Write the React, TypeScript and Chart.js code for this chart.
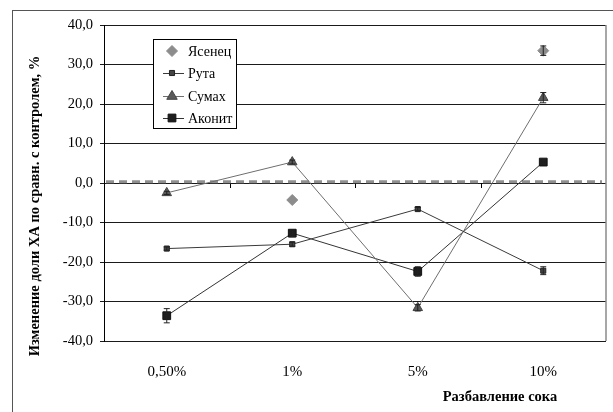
import React, { useEffect, useRef } from 'react';
import { Chart, registerables } from 'chart.js';
Chart.register(...registerables);

const categories = ['0,50%', '1%', '5%', '10%'];
const seriesNames = ['Ясенец', 'Рута', 'Сумах', 'Аконит'];
const yasenets = [null, -4.3, null, 33.5];
const yasenetsErr = [0, 0, 0, 1.2];
const ruta = [-16.6, -15.5, -6.6, -22.2];
const rutaErr = [0.4, 0.5, 0.4, 1.0];
const sumakh = [-2.5, 5.3, -31.6, 21.6];
const sumakhErr = [0.4, 0.5, 0.8, 1.3];
const akonit = [-33.6, -12.7, -22.4, 5.3];
const akonitErr = [1.8, 0.9, 1.2, 0.5];
const yMin = -40;
const yMax = 40;
const yStep = 10;
const controlLevel = 0.3;
const yTitle = 'Изменение доли ХА по сравн. с контролем, %';
const xTitle = 'Разбавление сока';

const FONT = "'Liberation Serif', 'Times New Roman', serif";

function drawMarker(ctx: CanvasRenderingContext2D, style: string, x: number, y: number, r: number, fill: string, stroke: string) {
  ctx.save();
  ctx.fillStyle = fill;
  ctx.strokeStyle = stroke;
  ctx.lineWidth = 1;
  ctx.beginPath();
  if (style === 'rectRot') {
    ctx.moveTo(x, y - r);
    ctx.lineTo(x + r, y);
    ctx.lineTo(x, y + r);
    ctx.lineTo(x - r, y);
    ctx.closePath();
  } else if (style === 'triangle') {
    ctx.moveTo(x, y - r);
    ctx.lineTo(x + r * 0.95, y + r * 0.6);
    ctx.lineTo(x - r * 0.95, y + r * 0.6);
    ctx.closePath();
  } else {
    const s = r * Math.SQRT1_2;
    ctx.rect(x - s, y - s, 2 * s, 2 * s);
  }
  ctx.fill();
  ctx.stroke();
  ctx.restore();
}

const decorPlugin = {
  id: 'decor',
  beforeDatasetsDraw(chart: any) {
    const { ctx, chartArea, scales } = chart;
    const y = scales.y;
    const x = scales.x;
    ctx.save();
    ctx.strokeStyle = '#8a8a8a';
    ctx.lineWidth = 1.5;
    ctx.beginPath();
    ctx.moveTo(chartArea.right, chartArea.top);
    ctx.lineTo(chartArea.right, chartArea.bottom);
    ctx.stroke();
    const y0 = y.getPixelForValue(0);
    ctx.strokeStyle = '#000';
    ctx.lineWidth = 1;
    for (let i = 1; i < categories.length; i++) {
      const bx = Math.round((x.getPixelForValue(i - 1) + x.getPixelForValue(i)) / 2) + 0.5;
      ctx.beginPath();
      ctx.moveTo(bx, y0);
      ctx.lineTo(bx, y0 + 5);
      ctx.stroke();
    }
    const yc = y.getPixelForValue(controlLevel);
    ctx.strokeStyle = '#8f8f8f';
    ctx.lineWidth = 3;
    ctx.setLineDash([8, 5]);
    ctx.beginPath();
    ctx.moveTo(chartArea.left + 2, yc);
    ctx.lineTo(chartArea.right - 4, yc);
    ctx.stroke();
    ctx.restore();
  },
  afterDatasetsDraw(chart: any) {
    const { ctx, scales } = chart;
    const errs = [yasenetsErr, rutaErr, sumakhErr, akonitErr];
    const vals = [yasenets, ruta, sumakh, akonit];
    ctx.save();
    ctx.strokeStyle = '#222';
    ctx.lineWidth = 1;
    vals.forEach((arr, si) => {
      arr.forEach((v, i) => {
        if (v === null) return;
        const e = errs[si][i];
        if (!e) return;
        const px = scales.x.getPixelForValue(i);
        const ya = scales.y.getPixelForValue(v + e);
        const yb = scales.y.getPixelForValue(v - e);
        ctx.beginPath();
        ctx.moveTo(px, ya);
        ctx.lineTo(px, yb);
        ctx.moveTo(px - 3, ya);
        ctx.lineTo(px + 3, ya);
        ctx.moveTo(px - 3, yb);
        ctx.lineTo(px + 3, yb);
        ctx.stroke();
      });
    });
    ctx.restore();
  },
  afterDraw(chart: any) {
    const { ctx } = chart;
    ctx.save();
    ctx.strokeStyle = '#555';
    ctx.lineWidth = 1;
    ctx.strokeRect(12.5, 10.5, 800, 600);
    const lx = 153.5, ly = 39.5, lw = 83, lh = 89;
    ctx.fillStyle = '#fff';
    ctx.fillRect(lx, ly, lw, lh);
    ctx.strokeStyle = '#000';
    ctx.strokeRect(lx, ly, lw, lh);
    const rows = [51, 73, 96, 118];
    chart.data.datasets.forEach((ds: any, i: number) => {
      const yy = rows[i];
      if (ds.showLine !== false) {
        ctx.strokeStyle = ds.borderColor;
        ctx.lineWidth = 1;
        ctx.beginPath();
        ctx.moveTo(163, yy + 0.5);
        ctx.lineTo(184, yy + 0.5);
        ctx.stroke();
      }
      drawMarker(ctx, ds.pointStyle, 172, yy, ds.pointRadius, ds.pointBackgroundColor, ds.pointBorderColor);
      ctx.fillStyle = '#000';
      ctx.font = `14px ${FONT}`;
      ctx.textBaseline = 'middle';
      ctx.textAlign = 'left';
      ctx.fillText(ds.label, 188, yy + 1);
    });
    ctx.font = `bold 14.5px ${FONT}`;
    ctx.fillStyle = '#000';
    ctx.textAlign = 'center';
    ctx.textBaseline = 'middle';
    ctx.fillText(xTitle, 500, 397);
    ctx.translate(35, 206);
    ctx.rotate(-Math.PI / 2);
    ctx.fillText(yTitle, 0, 0);
    ctx.restore();
  },
};

export default function App() {
  const ref = useRef<HTMLCanvasElement>(null);
  useEffect(() => {
    if (!ref.current) return;
    const chart = new Chart(ref.current, {
      type: 'line',
      data: {
        labels: categories,
        datasets: [
          {
            label: seriesNames[0], data: yasenets, showLine: false,
            pointStyle: 'rectRot', pointRadius: 5.5, pointBackgroundColor: '#8c8c8c', pointBorderColor: '#8c8c8c',
            borderColor: '#8c8c8c', backgroundColor: '#8c8c8c',
          },
          {
            label: seriesNames[1], data: ruta, borderColor: '#3a3a3a', borderWidth: 1,
            pointStyle: 'rect', pointRadius: 3.6, pointBackgroundColor: '#444', pointBorderColor: '#222',
            backgroundColor: '#444',
          },
          {
            label: seriesNames[2], data: sumakh, borderColor: '#6e6e6e', borderWidth: 1,
            pointStyle: 'triangle', pointRadius: 5.5, pointBackgroundColor: '#5a5a5a', pointBorderColor: '#444',
            backgroundColor: '#5a5a5a',
          },
          {
            label: seriesNames[3], data: akonit, borderColor: '#333', borderWidth: 1,
            pointStyle: 'rect', pointRadius: 5.5, pointBackgroundColor: '#1e1e1e', pointBorderColor: '#111',
            backgroundColor: '#1e1e1e',
          },
        ],
      },
      options: {
        responsive: false,
        animation: false,
        layout: { autoPadding: false, padding: { top: 25, right: 7, left: 0, bottom: 0 } },
        plugins: { legend: { display: false }, tooltip: { enabled: false } },
        scales: {
          x: {
            offset: true,
            grid: { display: false },
            border: { display: false },
            ticks: { color: '#000', font: { family: FONT, size: 15 }, padding: 14, maxRotation: 0 },
            afterFit: (s: any) => { s.height = 71; },
          },
          y: {
            min: yMin, max: yMax,
            grid: { color: '#1a1a1a', lineWidth: 1, tickLength: 4, drawTicks: true },
            border: { display: true, color: '#000', width: 1 },
            ticks: {
              stepSize: yStep, color: '#000', font: { family: FONT, size: 14.5 }, padding: 7,
              callback: (v: any) => Number(v).toFixed(1).replace('.', ','),
            },
            afterFit: (s: any) => { s.width = 104; },
          },
        },
      },
      plugins: [decorPlugin],
    });
    return () => chart.destroy();
  }, []);
  return (
    <div style={{ position: 'fixed', left: 0, top: 0, width: 613, height: 412, background: '#fff' }}>
      <canvas ref={ref} width={613} height={412} />
    </div>
  );
}
